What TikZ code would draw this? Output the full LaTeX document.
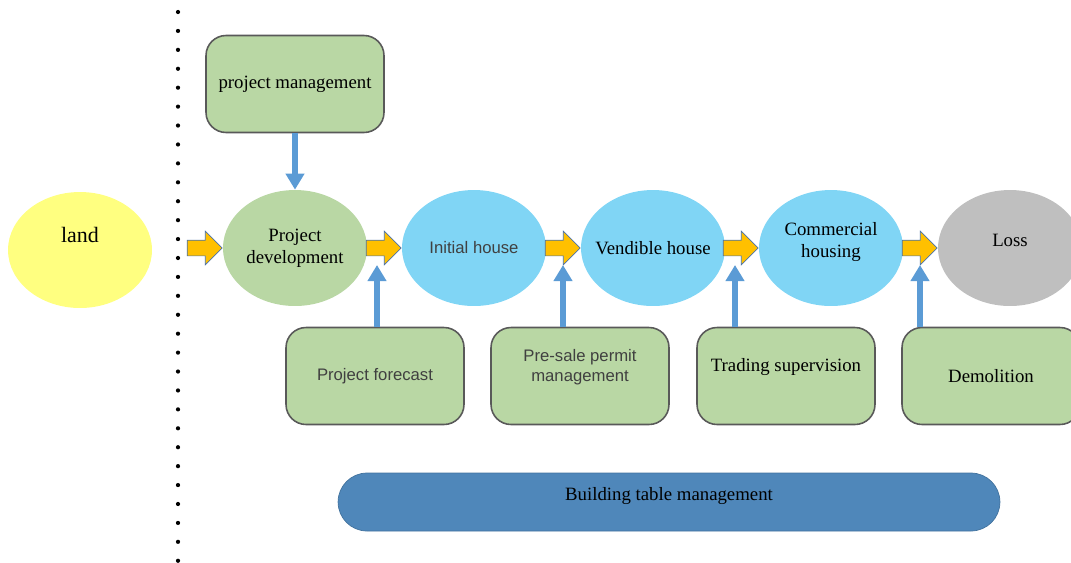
\documentclass[tikz,border=0pt]{standalone}
\usepackage{fontspec}
\setmainfont{Liberation Serif}
\setsansfont{Liberation Sans}
\usetikzlibrary{shapes.geometric,shapes.arrows,arrows.meta,calc}

\definecolor{landyellow}{HTML}{FFFF80}
\definecolor{stagegreen}{HTML}{B9D7A4}
\definecolor{stageblue}{HTML}{80D5F5}
\definecolor{lossgray}{HTML}{BFBFBF}
\definecolor{flowgold}{HTML}{FFC000}
\definecolor{flowedge}{HTML}{4A72A6}
\definecolor{feedblue}{HTML}{5B9BD5}
\definecolor{barblue}{HTML}{4F87BA}
\definecolor{boxedge}{HTML}{595959}
\definecolor{sanstext}{HTML}{404040}

\tikzset{
    stage/.style={ellipse, minimum width=2.88cm, minimum height=2.32cm,
        inner xsep=-12pt, inner ysep=0pt, align=center, font=\fontsize{10.7}{12.5}\selectfont},
    sanslabel/.style={font=\sffamily\fontsize{9.5}{11.5}\selectfont, text=sanstext},
    taskbox/.style={rectangle, rounded corners=0.4cm, draw=boxedge, line width=0.9pt,
        fill=stagegreen, minimum width=3.56cm, minimum height=1.94cm,
        align=center, font=\fontsize{10.7}{12.5}\selectfont},
    lifted/.style={text depth=#1},
    flow/.style={single arrow, fill=flowgold, draw=flowedge, line width=0.4pt,
        minimum height=0.7cm, inner sep=0.15cm, single arrow head extend=0.18cm},
    feed/.style={draw=feedblue, line width=0.11cm,
        -{Triangle[length=0.32cm, width=0.36cm]}}
}

\begin{document}
\begin{tikzpicture}[x=0.02cm, y=-0.02cm]
    \useasboundingbox (0,0) rectangle (1071,562);

    % Dotted boundary
    \draw[line width=2.4pt, line cap=round, dash pattern=on 0pt off 10.77pt] (178,12) -- (178,562);

    % Life cycle stages
    \node[stage, fill=landyellow, lifted=0.6cm, font=\fontsize{12.5}{14}\selectfont] (land) at (80,250) {land};
    \node[stage, fill=stagegreen] (pd) at (295,248) {Project\\development};
    \node[stage, fill=stageblue, sanslabel] (ih) at (474,248) {Initial house};
    \node[stage, fill=stageblue] (vh) at (653,248) {Vendible house};
    \node[stage, fill=stageblue, lifted=0.34cm] (ch) at (831,248) {Commercial\\housing};
    \node[stage, fill=lossgray, lifted=0.32cm] (loss) at (1010,248) {Loss};

    % Flow arrows into each stage
    \node[flow, anchor=east] (a1) at (pd.west) {};
    \node[flow, anchor=east] (a2) at (ih.west) {};
    \node[flow, anchor=east] (a3) at (vh.west) {};
    \node[flow, anchor=east] (a4) at (ch.west) {};
    \node[flow, anchor=east] (a5) at (loss.west) {};

    % Management boxes
    \node[taskbox] (pm) at (295,84) {project management};
    \node[taskbox, sanslabel] (pf) at (375,376) {Project forecast};
    \node[taskbox, sanslabel, lifted=0.43cm] (ps) at (580,376) {Pre-sale permit\\management};
    \node[taskbox, lifted=0.43cm] (ts) at (786,376) {Trading supervision};
    \node[taskbox] (dm) at (991,376) {Demolition};

    % Tips of the supervision arrows
    \coordinate (t2) at (377,265);
    \coordinate (t3) at (563,265);
    \coordinate (t4) at (735,265);
    \coordinate (t5) at (920,265);

    % Supervision arrows
    \draw[feed] (pm.south) -- (pd.north);
    \draw[feed] (pf.north -| t2) -- (t2);
    \draw[feed] (ps.north -| t3) -- (t3);
    \draw[feed] (ts.north -| t4) -- (t4);
    \draw[feed] (dm.north -| t5) -- (t5);

    % Building table bar
    \node[rectangle, rounded corners=0.58cm, fill=barblue, draw=barblue!85!black, line width=0.4pt,
        minimum width=13.24cm, minimum height=1.16cm, lifted=0.34cm,
        font=\fontsize{10.7}{12.5}\selectfont] (btm) at (669,502) {Building table management};
\end{tikzpicture}
\end{document}
